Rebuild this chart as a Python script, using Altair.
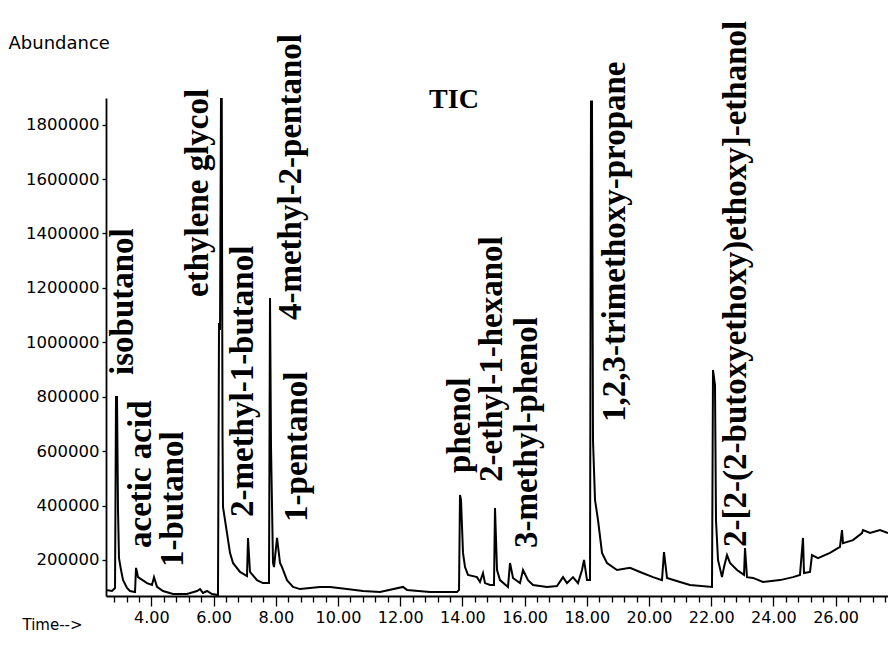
import altair as alt
import pandas as pd

# ---- chromatogram trace (retention time in min, abundance) ----
time_min = [2.540, 2.733, 2.830, 2.862, 2.894, 2.926, 2.958, 3.023, 3.087, 3.215,
            3.312, 3.473, 3.505, 3.537, 3.569, 3.859, 4.019, 4.084, 4.180, 4.373,
            4.695, 5.145, 5.466, 5.563, 5.659, 5.788, 5.949, 6.141, 6.174, 6.206,
            6.238, 6.262, 6.286, 6.302, 6.431, 6.527, 6.624, 6.849, 7.074, 7.106,
            7.170, 7.395, 7.588, 7.781, 7.814, 7.846, 7.910, 7.942, 8.039, 8.135,
            8.199, 8.360, 8.553, 8.778, 9.421, 9.743, 10.289, 10.804, 11.350, 12.090,
            12.219, 12.958, 13.826, 13.891, 13.923, 13.955, 14.019, 14.084, 14.180, 14.469,
            14.566, 14.662, 14.727, 14.887, 15.016, 15.048, 15.113, 15.209, 15.466, 15.531,
            15.627, 15.852, 15.949, 16.109, 16.270, 16.720, 17.042, 17.235, 17.363, 17.556,
            17.717, 17.846, 17.910, 18.006, 18.103, 18.135, 18.167, 18.199, 18.264, 18.360,
            18.489, 18.650, 18.971, 19.389, 19.711, 20.129, 20.418, 20.482, 20.579, 20.997,
            21.318, 22.026, 22.058, 22.122, 22.154, 22.219, 22.347, 22.412, 22.508, 22.605,
            22.830, 23.055, 23.087, 23.151, 23.344, 23.666, 24.212, 24.630, 24.855, 24.952,
            24.984, 25.177, 25.241, 25.434, 25.820, 26.141, 26.206, 26.238, 26.559, 26.849,
            26.881, 27.106, 27.428, 27.685]
abundance = [89700, 86000, 97000, 799000, 799000, 384000, 207000, 163000, 127000, 97000,
             86000, 82000, 171000, 156000, 137000, 115000, 108000, 137000, 101000, 86000,
             75000, 75000, 86000, 93000, 79000, 86000, 75000, 71000, 1071000, 1045000,
             1895000, 1895000, 667000, 395000, 299000, 226000, 189000, 156000, 141000, 281000,
             156000, 126000, 115000, 115000, 1163000, 615000, 189000, 174000, 281000, 189000,
             174000, 126000, 101000, 93000, 101000, 101000, 93000, 86000, 82000, 101000,
             90000, 82000, 82000, 90000, 439000, 421000, 226000, 174000, 145000, 137000,
             119000, 152000, 115000, 108000, 108000, 391000, 163000, 126000, 101000, 189000,
             134000, 115000, 163000, 126000, 108000, 101000, 104000, 137000, 115000, 137000,
             115000, 163000, 200000, 126000, 126000, 1885000, 1885000, 641000, 421000, 347000,
             226000, 189000, 163000, 171000, 156000, 137000, 126000, 229000, 134000, 119000,
             108000, 101000, 898000, 843000, 347000, 200000, 137000, 174000, 218000, 189000,
             163000, 145000, 244000, 137000, 134000, 119000, 126000, 137000, 145000, 281000,
             152000, 156000, 218000, 207000, 226000, 248000, 310000, 262000, 273000, 299000,
             310000, 299000, 310000, 299000]

# ---- compound annotations ----
peak_names = ["isobutanol", "acetic acid", "1-butanol", "ethylene glycol",
              "2-methyl-1-butanol", "4-methyl-2-pentanol", "1-pentanol", "phenol",
              "2-ethyl-1-hexanol", "3-methyl-phenol", "1,2,3-trimethoxy-propane",
              "2-[2-(2-butoxyethoxy)ethoxy]-ethanol"]
label_time = [3.071, 3.650, 4.695, 5.498, 6.945, 8.489, 8.682, 13.923,
              14.952, 16.077, 18.907, 22.797]
label_abund = [880000, 244000, 174000, 1167000, 358000, 1082000, 340000, 520000,
               487000, 244000, 707000, 248000]

tic_text = ["TIC"]
tic_time = [13.73]
tic_abund = [1891000]

# ---- axis ticks ----
x_ticks = [round(2.8 + 0.4 * i, 1) for i in range(63)]
y_ticks = [200000, 400000, 600000, 800000, 1000000, 1200000, 1400000, 1600000, 1800000]

trace = pd.DataFrame({"time": time_min, "abundance": abundance})
labels = pd.DataFrame({"name": peak_names, "time": label_time, "abundance": label_abund})
tic = pd.DataFrame({"name": tic_text, "time": tic_time, "abundance": tic_abund})

major = "abs(datum.value - 2 * round(datum.value / 2)) < 0.01"

x_enc = alt.X(
    "time:Q",
    scale=alt.Scale(domain=[2.54, 27.685], nice=False, zero=False),
    axis=alt.Axis(
        values=x_ticks,
        title="Time-->",
        titleAngle=0, titleAlign="left", titleBaseline="middle",
        titleX=-84, titleY=28,
        titleFont="DejaVu Sans", titleFontSize=15, titleFontWeight="normal",
        titleColor="black",
        labelExpr=major + " ? format(datum.value, '.2f') : ''",
        labelFont="DejaVu Sans", labelFontSize=16, labelColor="black",
        labelFlush=False, labelOverlap=False, labelPadding=3,
        tickSize={"condition": {"test": major, "value": 10}, "value": 6},
        tickColor="black", tickWidth=1.3,
        domainColor="black", domainWidth=1.8,
        grid=False,
    ),
)
y_enc = alt.Y(
    "abundance:Q",
    scale=alt.Scale(domain=[67600, 1898000], nice=False, zero=False),
    axis=alt.Axis(
        values=y_ticks, format="d",
        title="Abundance",
        titleAngle=0, titleAlign="left", titleBaseline="middle",
        titleX=-98, titleY=-55,
        titleFont="DejaVu Sans", titleFontSize=18, titleFontWeight="normal",
        titleColor="black",
        labelFont="DejaVu Sans", labelFontSize=16.5, labelColor="black",
        labelPadding=3, labelLimit=200, tickSize=4, tickColor="black", tickWidth=1.3,
        domainColor="black", domainWidth=1.8, grid=False,
    ),
)

line = alt.Chart(trace).mark_line(color="black", strokeWidth=2, clip=True).encode(
    x=x_enc, y=y_enc, order="time:Q"
)

names = alt.Chart(labels).mark_text(
    angle=270, align="left", baseline="middle",
    font="Liberation Serif", fontWeight="bold", fontSize=33, color="black",
).encode(x=x_enc, y=y_enc, text="name:N")

tic_mark = alt.Chart(tic).mark_text(
    align="center", baseline="middle",
    font="Liberation Serif", fontWeight="bold", fontSize=28, color="black",
).encode(x=x_enc, y=y_enc, text="name:N")

chart = alt.layer(line, names, tic_mark).properties(
    width=782, height=498,
    autosize=alt.AutoSizeParams(type="none"),
    padding={"left": 98, "top": 90, "right": 0, "bottom": 40},
    background="white",
).configure_view(stroke=None)

chart.save("out.html", embed_options={"renderer": "svg", "actions": False})
